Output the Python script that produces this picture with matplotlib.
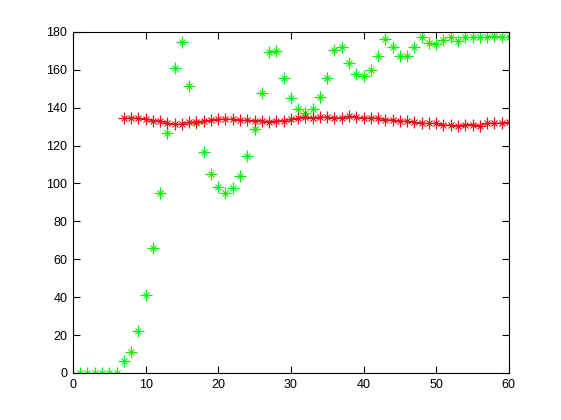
import numpy as np
import matplotlib
matplotlib.use("Agg")
import matplotlib.pyplot as plt

# datos
x_verde = list(range(1, 61))
y_verde = [0, 0, 0, 0, 0, 0, 6.5, 11.3, 21.9, 41.2,
           66.2, 94.9, 126.9, 161.2, 174.6, 151.2, 132.0, 116.4, 104.9, 98.0,
           95.2, 97.5, 103.7, 114.4, 128.5, 147.7, 169.3, 169.7, 155.6, 145.0,
           139.2, 137.2, 139.2, 145.4, 155.8, 170.2, 172.0, 163.5, 157.7, 156.6,
           159.7, 167.2, 176.0, 172.0, 167.2, 167.2, 172.3, 177.2, 174.0, 173.5,
           175.5, 177.2, 175.1, 177.2, 177.2, 177.2, 177.2, 177.9, 177.2, 177.2]

x_rojo = list(range(7, 61))
y_rojo = [134.5, 134.5, 134.5, 134.1, 133.1, 133.1, 131.8, 131.3, 131.3, 132.4,
          132.4, 133.1, 133.4, 133.9, 133.9, 133.9, 133.4, 133.4, 133.1, 133.1,
          132.6, 133.1, 133.1, 133.8, 134.5, 135.2, 134.6, 135.0, 135.0, 134.6,
          134.6, 135.4, 135.0, 134.5, 134.5, 134.5, 133.6, 133.6, 132.9, 132.9,
          132.4, 131.7, 131.7, 131.7, 130.8, 130.8, 130.3, 131.1, 131.1, 130.5,
          131.8, 131.8, 131.8, 132.2]

plt.rcParams['font.family'] = ['Liberation Sans', 'DejaVu Sans']

fig = plt.figure(figsize=(5.61, 4.2), dpi=100)
ax = fig.add_axes([0.13, 0.112, 0.777, 0.812])

# asterisco estilo matlab: cruz larga + aspa corta
ax.plot(x_verde, y_verde, linestyle="none", marker="+", markersize=8,
        color="#11ee11", markeredgewidth=0.9)
ax.plot(x_verde, y_verde, linestyle="none", marker="x", markersize=5,
        color="#11ee11", markeredgewidth=0.8)
ax.plot(x_rojo, y_rojo, linestyle="-", linewidth=0.9, color="#e8101a")
ax.plot(x_rojo, y_rojo, linestyle="none", marker="+", markersize=8,
        color="#e8101a", markeredgewidth=0.9)
ax.plot(x_rojo, y_rojo, linestyle="none", marker="x", markersize=5,
        color="#e8101a", markeredgewidth=0.8)

ax.set_xlim(0, 60)
ax.set_ylim(0, 180)
ax.set_xticks(np.arange(0, 61, 10))
ax.set_yticks(np.arange(0, 181, 20))
ax.tick_params(direction="in", top=True, right=True, length=5, width=0.8,
               labelsize=9, pad=4)
for s in ax.spines.values():
    s.set_linewidth(0.8)

fig.savefig("out.png", dpi=100)
